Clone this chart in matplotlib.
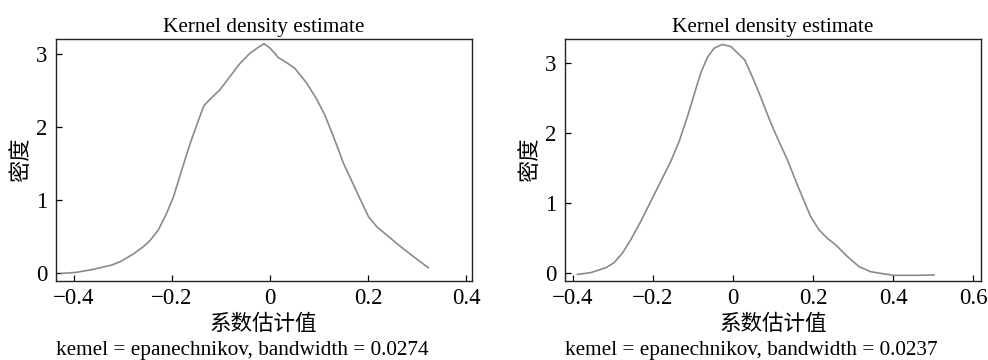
import matplotlib
matplotlib.use("Agg")
import matplotlib.pyplot as plt

plt.rcParams['font.family'] = ['Liberation Serif', 'Noto Sans CJK SC']

# Left panel: estimated coefficient KDE
left_x = [-0.4259, -0.3952, -0.3605, -0.323, -0.306, -0.279, -0.2585, -0.245, -0.228, -0.211,
          -0.197, -0.180, -0.163, -0.146, -0.135, -0.119, -0.102, -0.0816, -0.0612, -0.0408,
          -0.0238, -0.0122, 0.0, 0.017, 0.034, 0.051, 0.0748, 0.0952, 0.112, 0.129,
          0.150, 0.177, 0.201, 0.218, 0.238, 0.265, 0.293, 0.323]
left_y = [-0.01, 0.005, 0.046, 0.105, 0.15, 0.256, 0.357, 0.44, 0.585, 0.814,
          1.04, 1.41, 1.77, 2.09, 2.29, 2.40, 2.51, 2.69, 2.87, 3.01,
          3.09, 3.14, 3.08, 2.95, 2.88, 2.80, 2.60, 2.38, 2.16, 1.875,
          1.50, 1.11, 0.768, 0.631, 0.517, 0.366, 0.22, 0.069]

# Right panel
right_x = [-0.389, -0.356, -0.318, -0.2975, -0.277, -0.256, -0.231, -0.206, -0.181, -0.156,
           -0.135, -0.114, -0.0975, -0.081, -0.064, -0.0475, -0.0267, -0.0058, 0.0108, 0.029,
           0.048, 0.069, 0.09, 0.111, 0.136, 0.161, 0.194, 0.215, 0.236, 0.257,
           0.286, 0.315, 0.344, 0.369, 0.4025, 0.4525, 0.5025]
right_y = [-0.024, 0.0, 0.071, 0.143, 0.276, 0.467, 0.729, 1.014, 1.30, 1.586,
           1.871, 2.23, 2.54, 2.85, 3.076, 3.205, 3.26, 3.23, 3.14, 3.04,
           2.80, 2.51, 2.20, 1.92, 1.61, 1.25, 0.80, 0.61, 0.49, 0.395,
           0.229, 0.086, 0.014, -0.01, -0.038, -0.038, -0.033]

title = "Kernel density estimate"
xlabel = "系数估计值"
ylabel = "密度"
notes = ["kemel = epanechnikov, bandwidth = 0.0274",
         "kemel = epanechnikov, bandwidth = 0.0237"]
left_xticks = [-0.4, -0.2, 0, 0.2, 0.4]
left_xticklabels = ["\u22120.4", "\u22120.2", "0", "0.2", "0.4"]
right_xticks = [-0.4, -0.2, 0, 0.2, 0.4, 0.6]
right_xticklabels = ["\u22120.4", "\u22120.2", "0", "0.2", "0.4", "0.6"]
yticks = [0, 1, 2, 3]

fig = plt.figure(figsize=(9.88, 3.6), dpi=100)
ax1 = fig.add_axes([0.0564, 0.2194, 0.421, 0.6714])
ax2 = fig.add_axes([0.5719, 0.2194, 0.4207, 0.6714])

panels = [
    (ax1, left_x, left_y, left_xticks, left_xticklabels, (-0.4373, 0.4116), (-0.114, 3.20), notes[0]),
    (ax2, right_x, right_y, right_xticks, right_xticklabels, (-0.42, 0.619), (-0.119, 3.333), notes[1]),
]

fs = 16.5
for ax, xs, ys, xt, xtl, xl, yl, note in panels:
    ax.plot(xs, ys, color='#8a8a8a', lw=1.2)
    ax.set_xlim(*xl)
    ax.set_ylim(*yl)
    ax.set_xticks(xt)
    ax.set_xticklabels(xtl)
    ax.set_yticks(yticks)
    ax.tick_params(axis='x', direction='in', length=4, width=0.9, labelsize=fs, pad=5, colors='black')
    ax.tick_params(axis='y', direction='in', length=4, width=0.9, labelsize=fs, pad=6, colors='black')
    for s in ax.spines.values():
        s.set_linewidth(1.0)
        s.set_color('#222222')
    ax.set_title(title, fontsize=15.3, pad=5)
    ax.set_xlabel(xlabel, fontsize=15.5, labelpad=4)
    ax.set_ylabel(ylabel, fontsize=16, labelpad=3)
    ax.annotate(note, xy=(0, 0), xycoords='axes fraction', xytext=(0, -50),
                textcoords='offset points', ha='left', va='center', fontsize=15.3)

fig.savefig("out.png", dpi=100)
